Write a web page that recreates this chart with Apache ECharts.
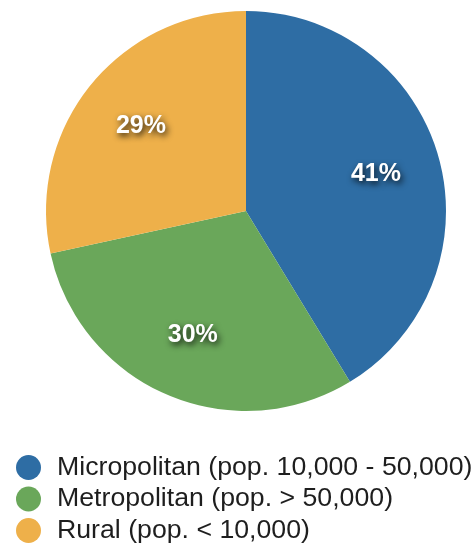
<!DOCTYPE html>
<html><head><meta charset="utf-8">
<script src="https://cdn.jsdelivr.net/npm/echarts@6/dist/echarts.min.js"></script>
<style>html,body{margin:0;padding:0;background:#fff}#c{width:475px;height:549px}</style>
</head><body><div id="c"></div>
<script>
const categories = ['Micropolitan (pop. 10,000 - 50,000)', 'Metropolitan (pop. > 50,000)', 'Rural (pop. < 10,000)'];
const values = [41.3, 30.3, 28.4];
const labels = ['41%', '30%', '29%'];
const colors = ['#2E6DA4', '#6AA75A', '#EEB04A'];

const chart = echarts.init(document.getElementById('c'));
const data = categories.map((n, i) => ({ name: n, value: values[i], itemStyle: { color: colors[i] } }));
chart.setOption({
  animation: false,
  legend: {
    orient: 'vertical', left: 11, top: 449, height: 100,
    icon: 'circle', itemWidth: 25, itemHeight: 25, itemGap: 4.5,
    data: categories,
    textStyle: { fontFamily: 'Liberation Sans, Arial, sans-serif', fontSize: 26.7, lineHeight: 27, color: '#1e1e1e', padding: [0, 0, 0, 11] }
  },
  series: [{
    type: 'pie', center: [246, 211], radius: [0, 200], startAngle: 90, clockwise: true,
    label: { show: false }, labelLine: { show: false }, silent: true,
    data: data
  }, {
    type: 'pie', center: [246, 211], radius: [64, 200], startAngle: 90, clockwise: true,
    silent: true, labelLine: { show: false },
    itemStyle: { color: 'transparent' },
    label: {
      show: true, position: 'inside', formatter: p => labels[p.dataIndex],
      fontFamily: 'Liberation Sans, Arial, sans-serif', fontWeight: 'bold', fontSize: 25, color: '#fff',
      padding: [10, 0, 0, 0],
      textShadowColor: 'rgba(0,0,0,0.85)', textShadowBlur: 6, textShadowOffsetX: 2, textShadowOffsetY: 3
    },
    data: categories.map((n, i) => ({ name: n, value: values[i], itemStyle: { color: 'transparent' } }))
  }]
});
</script></body></html>
